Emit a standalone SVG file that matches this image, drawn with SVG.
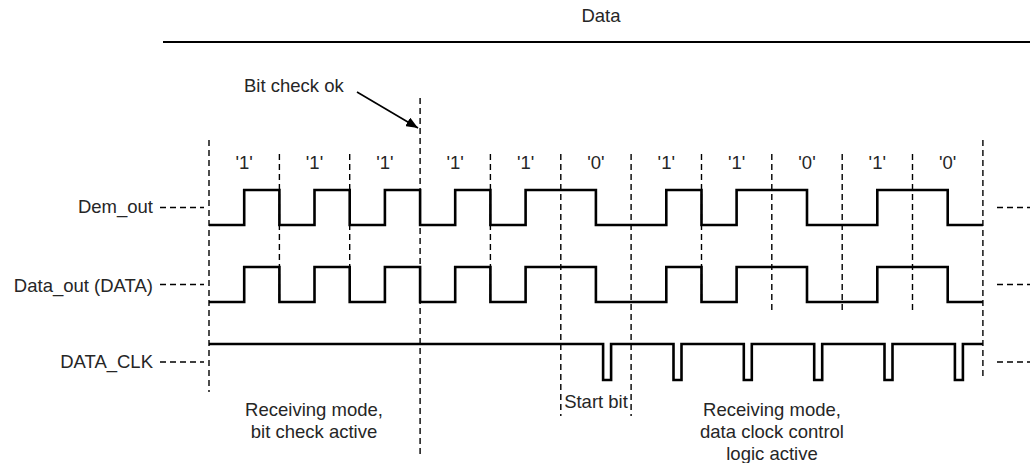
<svg xmlns="http://www.w3.org/2000/svg" width="1030" height="463" viewBox="0 0 1030 463">
<defs>
<style>
text{font-family:"Liberation Sans",Arial,sans-serif;font-size:18.5px;fill:#262626}
.r{text-anchor:end}
.m{text-anchor:middle}
.wave{fill:none;stroke:#000;stroke-width:2.6;stroke-linejoin:miter}
.dash{fill:none;stroke:#000;stroke-width:1.4;stroke-dasharray:6 4}
</style>
<marker id="ah" markerWidth="12" markerHeight="10" refX="12" refY="5" orient="auto" markerUnits="userSpaceOnUse">
<path d="M0,0 L12,5 L0,10 z" fill="#000"/>
</marker>
</defs>
<rect width="1030" height="463" fill="#fff"/>

<g id="title">
<text class="m" x="601" y="21.5">Data</text>
<line x1="163" y1="42" x2="1030" y2="42" stroke="#000" stroke-width="2"/>
</g>

<g id="grid">
<line class="dash" x1="209" y1="140" x2="209" y2="392"/>
<line class="dash" x1="279.4" y1="154" x2="279.4" y2="302"/>
<line class="dash" x1="349.7" y1="154" x2="349.7" y2="302"/>
<line class="dash" x1="420.1" y1="98" x2="420.1" y2="457"/>
<line class="dash" x1="490.4" y1="154" x2="490.4" y2="302"/>
<line class="dash" x1="560.8" y1="154" x2="560.8" y2="416"/>
<line class="dash" x1="631.1" y1="154" x2="631.1" y2="416"/>
<line class="dash" x1="701.5" y1="154" x2="701.5" y2="302"/>
<line class="dash" x1="771.8" y1="154" x2="771.8" y2="312"/>
<line class="dash" x1="842.2" y1="154" x2="842.2" y2="312"/>
<line class="dash" x1="912.5" y1="154" x2="912.5" y2="312"/>
<line class="dash" x1="982.9" y1="140" x2="982.9" y2="380"/>
</g>

<g id="bits">
<text class="m" x="244.2" y="168.5">'1'</text>
<text class="m" x="314.5" y="168.5">'1'</text>
<text class="m" x="384.9" y="168.5">'1'</text>
<text class="m" x="455.2" y="168.5">'1'</text>
<text class="m" x="525.6" y="168.5">'1'</text>
<text class="m" x="595.9" y="168.5">'0'</text>
<text class="m" x="666.3" y="168.5">'1'</text>
<text class="m" x="736.6" y="168.5">'1'</text>
<text class="m" x="807" y="168.5">'0'</text>
<text class="m" x="877.3" y="168.5">'1'</text>
<text class="m" x="947.7" y="168.5">'0'</text>
</g>

<g id="dem_out">
<text class="r" x="153" y="213">Dem_out</text>
<line class="dash" x1="160" y1="207.5" x2="204" y2="207.5"/>
<line class="dash" x1="997" y1="207.5" x2="1030" y2="207.5"/>
<path class="wave" d="M209,225 H244.2 V190 H279.4 V225 H314.5 V190 H349.7 V225 H384.9 V190 H420.1 V225 H455.2 V190 H490.4 V225 H525.6 V190 H595.9 V225 H666.3 V190 H701.5 V225 H736.6 V190 H807 V225 H877.3 V190 H947.7 V225 H982.9"/>
</g>

<g id="data_out">
<text class="r" x="153" y="292">Data_out (DATA)</text>
<line class="dash" x1="160" y1="284.5" x2="204" y2="284.5"/>
<line class="dash" x1="997" y1="284.5" x2="1030" y2="284.5"/>
<path class="wave" d="M209,302 H244.2 V267 H279.4 V302 H314.5 V267 H349.7 V302 H384.9 V267 H420.1 V302 H455.2 V267 H490.4 V302 H525.6 V267 H595.9 V302 H666.3 V267 H701.5 V302 H736.6 V267 H807 V302 H877.3 V267 H947.7 V302 H982.9"/>
</g>

<g id="data_clk">
<text class="r" x="153" y="368">DATA_CLK</text>
<line class="dash" x1="160" y1="362" x2="204" y2="362"/>
<line class="dash" x1="997" y1="362" x2="1030" y2="362"/>
<path class="wave" d="M209,344 H603.1 V380 H611.1 V344 H673.5 V380 H681.5 V344 H743.8 V380 H751.8 V344 H814.2 V380 H822.2 V344 H884.5 V380 H892.5 V344 H954.9 V380 H962.9 V344 H982.9"/>
</g>

<g id="bitcheck">
<text x="244" y="92">Bit check ok</text>
</g>

<g id="annotations">
<text class="m" x="314" y="415.5">Receiving mode,</text>
<text class="m" x="314" y="438">bit check active</text>
<text class="m" x="596" y="408">Start bit</text>
<text class="m" x="772" y="415.5">Receiving mode,</text>
<text class="m" x="772" y="438">data clock control</text>
<text class="m" x="772" y="460">logic active</text>
</g>

<g id="connectors">
<line x1="357" y1="92" x2="418" y2="128" stroke="#000" stroke-width="1.6" marker-end="url(#ah)"/>
</g>
</svg>
